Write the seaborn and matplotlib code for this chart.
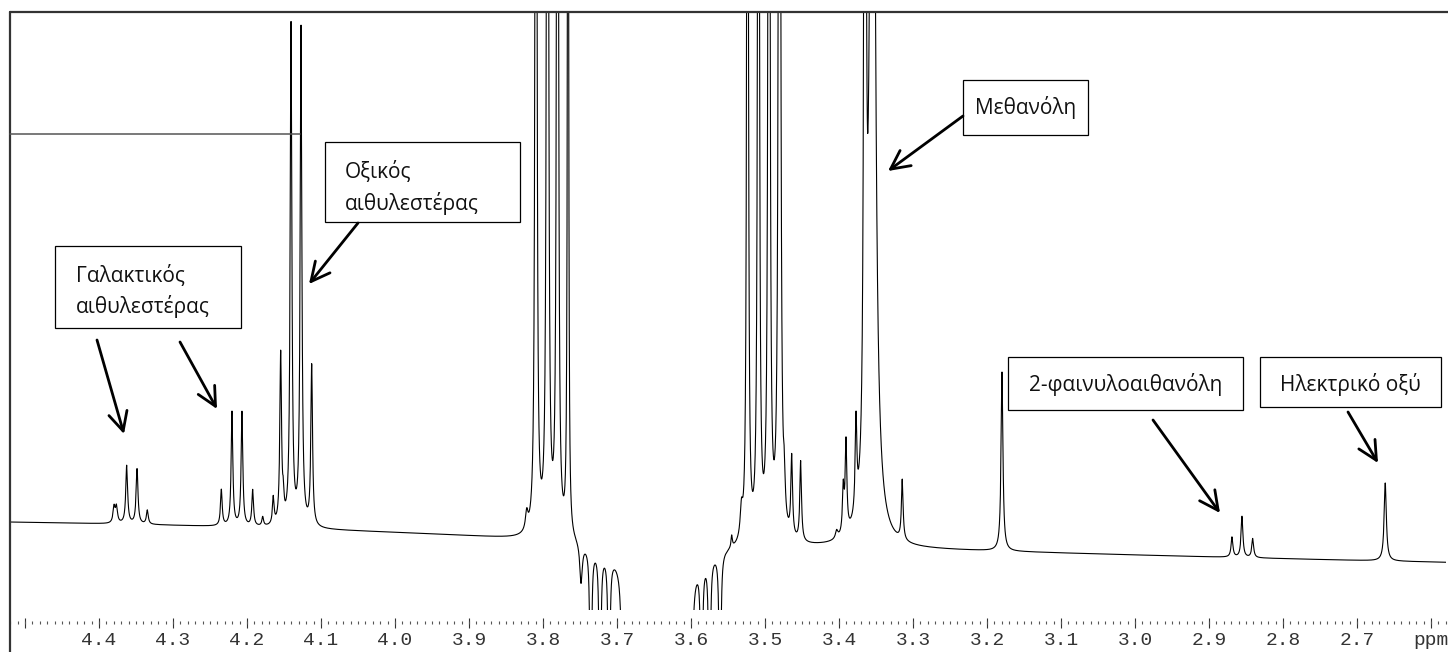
import numpy as np
import pandas as pd
import matplotlib
matplotlib.use("Agg")
import matplotlib.pyplot as plt
import seaborn as sns
from matplotlib.ticker import FixedLocator, MultipleLocator, NullFormatter
from matplotlib.patches import Rectangle, FancyArrowPatch
from matplotlib.lines import Line2D

# ---------------- 1H NMR peak table (shift in ppm, height in a.u., half-width in ppm) -------------
pos_shift = [4.3797, 4.3764, 4.3626, 4.3486, 4.3347,
             4.2347, 4.2203, 4.2068, 4.1923, 4.1788, 4.1645,
             4.1545, 4.1509, 4.1405, 4.1270, 4.1126,
             3.8220, 3.8095, 3.7939, 3.7804, 3.7662,
             3.5450, 3.5318, 3.5236, 3.5088, 3.4946, 3.4804,
             3.4739, 3.4639, 3.4518, 3.4031, 3.3942, 3.3905, 3.3770,
             3.3649, 3.3547, 3.3145, 3.1797,
             2.8689, 2.8554, 2.8409, 2.6618]
pos_height = [16, 16, 58, 55, 14,
              36, 114, 114, 36, 9, 27,
              170, 20, 500, 497, 160,
              18, 2500, 2500, 2500, 1500,
              12, 28, 1700, 2000, 2200, 2500,
              35, 80, 80, 8, 45, 90, 93,
              3000, 1300, 60, 179,
              20, 41, 19, 78]
pos_hwhm = [0.00162, 0.00162, 0.00149, 0.00149, 0.00149,
            0.00135, 0.00135, 0.00135, 0.00135, 0.00135, 0.00135,
            0.00135, 0.00108, 0.00135, 0.00135, 0.00135,
            0.00203, 0.00081, 0.00088, 0.00081, 0.00068,
            0.00108, 0.00203, 0.00088, 0.00088, 0.00092, 0.00098,
            0.00135, 0.00135, 0.00135, 0.00203, 0.00135, 0.00135, 0.00135,
            0.00081, 0.00338, 0.00135, 0.00149,
            0.00149, 0.00149, 0.00149, 0.00176]

# solvent-suppression region (negative-going artefacts around the ethanol CH2 quartet)
neg_shift = [3.7486, 3.7355, 3.7230, 3.7108, 3.6919,
             3.6743, 3.6595, 3.6446, 3.6297, 3.6149,
             3.6000, 3.5858, 3.5750, 3.5608, 3.6486]
neg_depth = [40, 300, 300, 300, 300,
             1500, 1500, 1500, 1500, 1500,
             300, 300, 300, 300, 10]
neg_hwhm = [0.00203, 0.00095, 0.00095, 0.00095, 0.00135,
            0.00203, 0.00203, 0.00203, 0.00203, 0.00203,
            0.00135, 0.00095, 0.00095, 0.00095, 0.1216]

# residual water hump and baseline level
water_shift, water_height, water_hwhm = 4.80, 72.3, 1.892
baseline_offset = -27.6

tick_values = [4.5, 4.4, 4.3, 4.2, 4.1, 4.0, 3.9, 3.8, 3.7, 3.6, 3.5,
               3.4, 3.3, 3.2, 3.1, 3.0, 2.9, 2.8, 2.7, 2.6]
tick_labels = ["", "4.4", "4.3", "4.2", "4.1", "4.0", "3.9", "3.8", "3.7", "3.6", "3.5",
               "3.4", "3.3", "3.2", "3.1", "3.0", "2.9", "2.8", "2.7", "ppm"]

annotations = ["Γαλακτικός\nαιθυλεστέρας", "Οξικός\nαιθυλεστέρας", "Μεθανόλη",
               "2-φαινυλοαιθανόλη", "Ηλεκτρικό οξύ"]

# ---------------- spectrum from the peak table ----------------
def lorentz(x, x0, h, w):
    return h * w ** 2 / ((x - x0) ** 2 + w ** 2)

ppm = np.arange(2.57, 4.53, 0.00005)
signal = baseline_offset + lorentz(ppm, water_shift, water_height, water_hwhm)
for s, h, w in zip(pos_shift, pos_height, pos_hwhm):
    signal += lorentz(ppm, s, h, w)
for s, h, w in zip(neg_shift, neg_depth, neg_hwhm):
    signal -= lorentz(ppm, s, h, w)
spec = pd.DataFrame({"ppm": ppm, "intensity": signal})

# ---------------- figure ----------------
sns.set_style("white")
plt.rcParams["font.family"] = ["Open Sans", "DejaVu Sans"]

W_PX, H_PX = 1448, 652
fig = plt.figure(figsize=(W_PX / 100, H_PX / 100), dpi=100)


def fx(px):
    return px / W_PX


def fy(py):
    return 1 - py / H_PX


XLIM = (4.5203, 2.5797)
ax = fig.add_axes([fx(10), fy(610), fx(1446) - fx(10), fy(12) - fy(610)])
sns.lineplot(data=spec, x="ppm", y="intensity", ax=ax, color="black",
             linewidth=0.8, estimator=None, sort=False)
ax.set_xlim(*XLIM)
ax.set_ylim(-45, 553)
ax.axis("off")

# ppm scale: major ticks with labels, minor ticks on a separate row
ax_major = fig.add_axes([fx(10), fy(618), fx(1446) - fx(10), 0.0001])
ax_major.set_xlim(*XLIM)
ax_major.xaxis.set_major_locator(FixedLocator(tick_values))
ax_major.set_xticklabels(tick_labels)
ax_major.set_yticks([])
for sp in ax_major.spines.values():
    sp.set_visible(False)
ax_major.tick_params(axis="x", bottom=True, direction="out", length=7.0, width=0.8,
                     color="#333333", pad=3, labelsize=14, labelcolor="#333333")
for lab in ax_major.get_xticklabels():
    lab.set_fontfamily(["Liberation Mono", "DejaVu Sans Mono"])
ax_major.patch.set_alpha(0)

ax_minor = fig.add_axes([fx(10), fy(621), fx(1446) - fx(10), 0.0001])
ax_minor.set_xlim(*XLIM)
ax_minor.xaxis.set_major_locator(MultipleLocator(0.01))
ax_minor.xaxis.set_major_formatter(NullFormatter())
ax_minor.set_yticks([])
for sp in ax_minor.spines.values():
    sp.set_visible(False)
ax_minor.tick_params(axis="x", bottom=True, direction="out", length=2.4, width=0.8,
                     color="#555555")
ax_minor.patch.set_alpha(0)

# outer frame and thin guide line
frame_kw = dict(transform=fig.transFigure, color="#333333", linewidth=1.6)
fig.add_artist(Line2D([fx(10), fx(10)], [fy(12), fy(652)], **frame_kw))
fig.add_artist(Line2D([fx(10), fx(1448)], [fy(12), fy(12)], **frame_kw))
fig.add_artist(Line2D([fx(10), fx(300)], [fy(134), fy(134)], transform=fig.transFigure,
                      color="#555555", linewidth=1.1))

# annotation boxes (x0, y0, x1, y1 in pixels) with the anchor of each text line
boxes = [(55, 246, 241, 328), (325, 142, 520, 222), (963, 80, 1088, 135),
         (1008, 357, 1243, 410), (1260, 357, 1441, 407)]
text_pos = [(76, [282, 313], "left"), (345, [178, 210], "left"), (1025.5, [114], "center"),
            (1125.5, [391], "center"), (1350.5, [391], "center")]
for (x0, y0, x1, y1), (tx, tys, ha), label in zip(boxes, text_pos, annotations):
    fig.add_artist(Rectangle((fx(x0), fy(y1)), fx(x1) - fx(x0), fy(y0) - fy(y1),
                             transform=fig.transFigure, facecolor="white",
                             edgecolor="black", linewidth=0.9))
    for line, ty in zip(label.split("\n"), tys):
        fig.text(fx(tx), fy(ty), line, ha=ha, va="baseline", fontsize=15,
                 color="#111111")

# arrows pointing at the assigned signals
arrows = [((97, 340), (124, 434)), ((180, 342), (217, 409)), ((358, 223), (309, 284)),
          ((963, 116), (888, 171)), ((1153, 420), (1220, 513)), ((1348, 412), (1378, 463))]
for (xa, ya), (xb, yb) in arrows:
    fig.add_artist(FancyArrowPatch((fx(xa), fy(ya)), (fx(xb), fy(yb)),
                                   transform=fig.transFigure,
                                   arrowstyle="->,head_length=0.9,head_width=0.45",
                                   mutation_scale=15, linewidth=2.0, color="black",
                                   shrinkA=0, shrinkB=0))

fig.savefig("out.png", dpi=100, facecolor="white")
